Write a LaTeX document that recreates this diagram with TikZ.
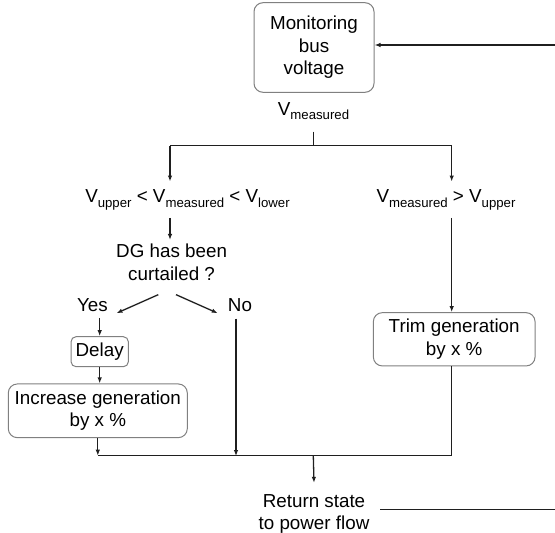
\documentclass[tikz,border=0pt]{standalone}
\usepackage{fontspec}
\setmainfont{Liberation Sans}
\usetikzlibrary{arrows.meta}

\newcommand{\vsub}[1]{V\raisebox{-4.3pt}{\fontsize{13.2}{13.2}\selectfont #1}}

\begin{document}
\begin{tikzpicture}[x=1pt, y=-1pt, font=\fontsize{18.8}{22.5}\selectfont]

\tikzset{block/.style = {draw=black!50, line width=1pt, rounded corners=9pt, align=center, inner sep=0pt}}
\tikzset{txt/.style = {inner sep=0pt, align=center}}
\tikzset{line/.style = {draw=black!88, line width=1.3pt}}
\tikzset{edge/.style = {line, ->, > = {Latex[length=6pt,width=4.5pt]}}}

\useasboundingbox (0,0) rectangle (555,533);

%blocks
\node[block, minimum width=120, minimum height=89.6] (mon) at (314,47.5) {Monitoring\\bus\\voltage};
\node[block, minimum width=57.3, minimum height=30, rounded corners=5pt] (delay) at (99.7,351.7) {Delay};
\node[block, minimum width=179, minimum height=53.7] (inc) at (97.8,410.8) {Increase generation\\by x \%};
\node[block, minimum width=161.7, minimum height=53.3] (trim) at (454.2,339.3) {Trim generation\\by x \%};

%labels
\node[txt, anchor=base] (vm) at (313.5,115) {\vsub{measured}};
\node[txt, anchor=base, inner ysep=8pt] (lo) at (187.5,202.7) {\vsub{upper} < \vsub{measured} < \vsub{lower}};
\node[txt, anchor=base, inner ysep=8pt] (hi) at (446,202.7) {\vsub{measured} > \vsub{upper}};
\node[txt] (dg) at (171.6,262.3) {DG has been\\curtailed ?};
\node[txt, anchor=base] (yes) at (92.5,311) {Yes};
\node[txt, anchor=base] (no) at (240,311) {No};
\node[txt] (ret) at (314,514) {Return state\\to power flow};

%points
\coordinate (fbin) at (555,45);
\coordinate (fbout) at (555,509.3);
\coordinate (split) at (313.3,145.7);
\coordinate (bl) at (170,145.7);
\coordinate (br) at (451.7,145.7);
\coordinate (merge) at (313.3,455.7);
\coordinate (mr) at (451.7,455.7);

%edges
\draw[edge] (fbin) -- (fbin -| mon.east);
\draw[line, shorten <=12pt] (vm.south -| split) -- (split);
\draw[line] (bl) -- (br);
\draw[edge] (bl) -- (bl |- lo.north);
\draw[edge] (br) -- (br |- hi.north);
\draw[edge, shorten >=4pt] (lo.south -| bl) -- (dg.north -| bl);
\draw[edge] ([xshift=-13.3pt,yshift=-14pt]dg.south) -- ([xshift=8.4pt,yshift=-8.6pt]yes.east);
\draw[edge] ([xshift=4.4pt,yshift=-14pt]dg.south) -- ([xshift=-10pt,yshift=-8.6pt]no.west);
\draw[edge] ([yshift=18.3pt]delay.north) -- (delay.north);
\draw[edge] (delay) -- (delay |- inc.north);
\draw[edge] (inc) -- (inc |- merge);
\draw[edge] ([xshift=-4pt,yshift=-7.3pt]no.south) -- ++(0,137.4);
\draw[edge] (br |- hi.south) -- (br |- trim.north);
\draw[line] (br |- trim.south) -- (mr) -- (inc |- mr);
\draw[edge] (merge) -- ([yshift=11.3pt]ret.north);
\draw[line, shorten >=10pt] (fbout) -- (fbout -| ret.east);

\end{tikzpicture}
\end{document}
